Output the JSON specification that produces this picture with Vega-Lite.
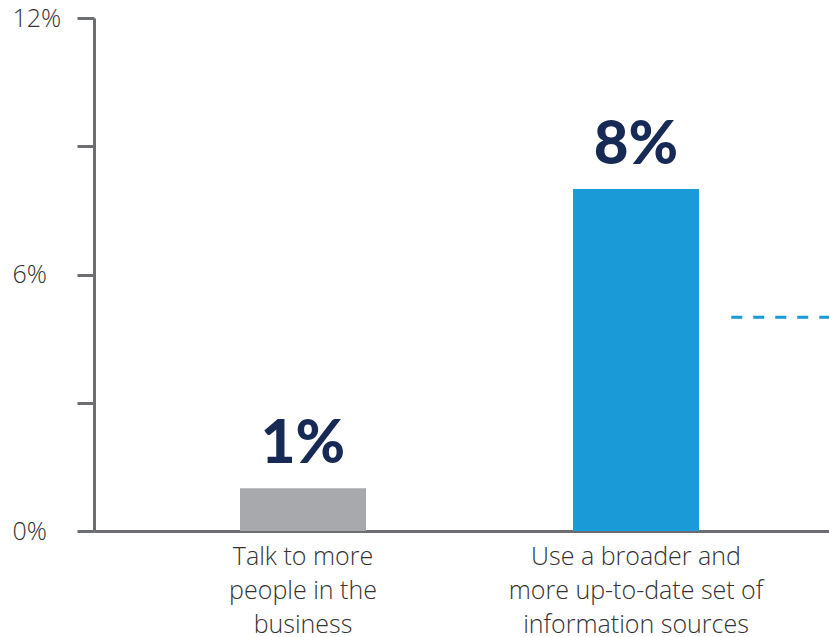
{
  "$schema": "https://vega.github.io/schema/vega-lite/v6.json",
  "width": 735,
  "height": 513,
  "autosize": {"type": "none"},
  "padding": {"left": 94, "top": 18, "right": 0, "bottom": 106},
  "background": "white",
  "config": {"view": {"stroke": null}},
  "layer": [
    {
      "data": {
        "values": [
          {"label": "Talk to more|people in the|business", "value": 1, "text": "1%"},
          {"label": "Use a broader and|more up-to-date set of|information sources", "value": 8, "text": "8%"}
        ]
      },
      "encoding": {
        "x": {
          "field": "label",
          "type": "nominal",
          "sort": null,
          "scale": {"paddingInner": 0.6216, "paddingOuter": 0.4144, "align": 0.529},
          "axis": {
            "title": null,
            "labelAngle": 0,
            "labelExpr": "split(datum.label, '|')",
            "labelFont": "Open Sans",
            "labelFontWeight": 300,
            "labelFontSize": 25,
            "labelLineHeight": 34,
            "labelLimit": 500,
            "labelColor": "#333333",
            "labelBaseline": "top",
            "labelPadding": 13,
            "ticks": false,
            "tickSize": 0,
            "domainColor": "#6d6e71",
            "domainWidth": 3
          }
        },
        "y": {
          "field": "value",
          "type": "quantitative",
          "scale": {"domain": [0, 12]},
          "axis": {
            "title": null,
            "grid": false,
            "values": [0, 3, 6, 9, 12],
            "labelExpr": "datum.value % 6 == 0 ? datum.value + '%' : ''",
            "labelFont": "Open Sans",
            "labelFontWeight": 300,
            "labelFontSize": 25,
            "labelColor": "#333333",
            "labelAlign": "left",
            "labelBaseline": "middle",
            "labelPadding": 65,
            "tickSize": 17,
            "tickWidth": 3,
            "tickColor": "#6d6e71",
            "domainColor": "#6d6e71",
            "domainWidth": 3
          }
        }
      },
      "layer": [
        {
          "mark": {"type": "bar"},
          "encoding": {
            "color": {
              "field": "label",
              "type": "nominal",
              "sort": null,
              "scale": {"range": ["#a7a9ac", "#1a9ad6"]},
              "legend": null
            }
          }
        },
        {
          "mark": {
            "type": "text",
            "font": "Lato",
            "fontWeight": 900,
            "fontSize": 60,
            "color": "#172a55",
            "baseline": "alphabetic",
            "dy": -25
          },
          "encoding": {"text": {"field": "text"}}
        }
      ]
    },
    {
      "data": {"values": [{"benchmark": 5, "from": 0.867, "to": 1.0}]},
      "mark": {"type": "rule", "color": "#1a9ad6", "strokeWidth": 3, "strokeDash": [11, 11]},
      "encoding": {
        "x": {"field": "from", "type": "quantitative", "scale": {"domain": [0, 1]}, "axis": null},
        "x2": {"field": "to"},
        "y": {"field": "benchmark", "type": "quantitative"}
      }
    }
  ],
  "resolve": {"scale": {"x": "independent"}}
}
